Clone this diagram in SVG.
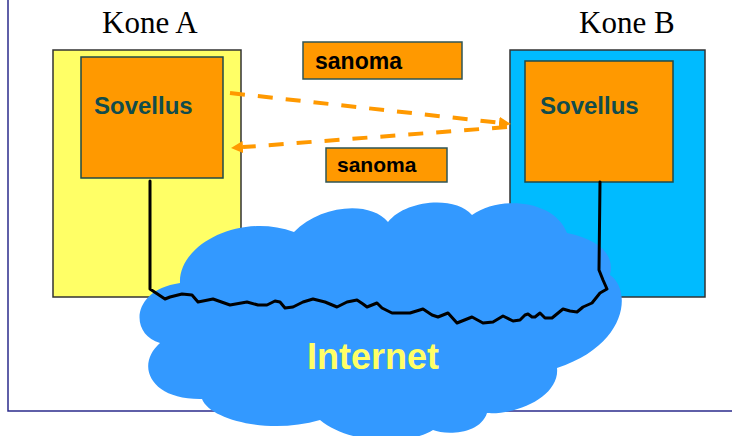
<svg xmlns="http://www.w3.org/2000/svg" width="732" height="436" viewBox="0 0 732 436">
  <style>
    .frame { fill: none; stroke: #2B2B8C; stroke-width: 1.5; }
    .host { stroke: #333333; stroke-width: 1.5; }
    .app { fill: #FF9900; stroke: #1F4A4A; stroke-width: 1.5; }
    .msg { fill: #FF9900; stroke: #2F5555; stroke-width: 1.5; }
    .title { font-family: "Liberation Serif", "Times New Roman", serif; font-size: 31px; fill: #000000; }
    .appText { font-family: "Liberation Sans", Arial, sans-serif; font-weight: bold; font-size: 24px; fill: #114C4C; }
    .msgText { font-family: "Liberation Sans", Arial, sans-serif; font-weight: bold; fill: #000000; }
    .flow { fill: none; stroke: #FF9900; stroke-width: 4; stroke-dasharray: 15 13; }
    .wire { fill: none; stroke: #000000; stroke-width: 3; stroke-linejoin: round; stroke-linecap: round; }
    .cloud { fill: #3399FF; }
    .netText { font-family: "Liberation Sans", Arial, sans-serif; font-weight: bold; font-size: 36px; fill: #FFFF66; }
  </style>
  <defs>
    <marker id="head" markerUnits="userSpaceOnUse" markerWidth="13" markerHeight="12" refX="0" refY="6" orient="auto">
      <path d="M0,0 L12,6 L0,12 Z" fill="#FF9900"/>
    </marker>
  </defs>

  <rect width="732" height="436" fill="#FFFFFF"/>

  <!-- slide frame -->
  <path class="frame" d="M8,0 L8,411 L732,411"/>

  <!-- host A -->
  <g id="kone-a">
    <text class="title" x="102" y="33">Kone A</text>
    <rect class="host" x="53" y="50" width="188" height="247" fill="#FFFF66"/>
  </g>

  <!-- host B -->
  <g id="kone-b">
    <text class="title" x="579" y="33">Kone B</text>
    <rect class="host" x="510" y="50" width="195" height="247" fill="#00BBFF"/>
  </g>

  <!-- network cloud -->
  <g id="internet">
    <path class="cloud" d="M180,283 C178,245 240,212 294,232 C320,205 370,200 388,222 C405,200 455,195 472,215 C500,195 555,200 567,233 C600,240 615,255 610,275 C632,290 628,345 557,368 C560,395 520,415 487,413 C480,435 445,435 433,430 C410,445 350,445 320,420 C270,435 210,420 202,399 C150,400 135,365 160,343 C130,335 130,290 180,283 Z"/>
    <text class="netText" x="307" y="369">Internet</text>
  </g>

  <!-- applications -->
  <g id="sovellus-a">
    <rect class="app" x="81" y="57" width="142" height="121"/>
    <text class="appText" x="94" y="114">Sovellus</text>
  </g>
  <g id="sovellus-b">
    <rect class="app" x="525" y="61" width="148" height="121"/>
    <text class="appText" x="540" y="114">Sovellus</text>
  </g>

  <!-- message labels -->
  <g id="sanoma-1">
    <rect class="msg" x="303" y="42" width="159" height="37"/>
    <text class="msgText" x="315" y="69" font-size="23">sanoma</text>
  </g>
  <g id="sanoma-2">
    <rect class="msg" x="326" y="148" width="121" height="34"/>
    <text class="msgText" x="337" y="172" font-size="21">sanoma</text>
  </g>

  <!-- connectors -->
  <g id="connectors">
    <path class="flow" d="M230,93 L499,122.7" marker-end="url(#head)"/>
    <path class="flow" d="M507,127 L243,147.1" marker-end="url(#head)"/>
    <path class="wire" d="M150,181 L150,289 L165,299 L170,297 L182,294 L192,295 L198,302 L213,299 L230,305 L247,302 L258,305 L267,305 L275,301 L280,302 L285,308 L293,307 L303,302 L313,299 L325,302 L337,307 L347,302 L357,300 L363,304 L367,307 L377,303 L382,308 L392,313 L410,313 L423,309 L432,315 L438,317 L448,313 L457,323 L472,317 L483,323 L493,322 L503,316 L513,321 L520,320 L525,315 L528,314 L532,317 L535,317 L540,313 L545,318 L552,318 L563,309 L570,311 L577,312 L583,307 L592,303 L600,293 L607,289 L603,280 L599,270 L600,182"/>
  </g>
</svg>
